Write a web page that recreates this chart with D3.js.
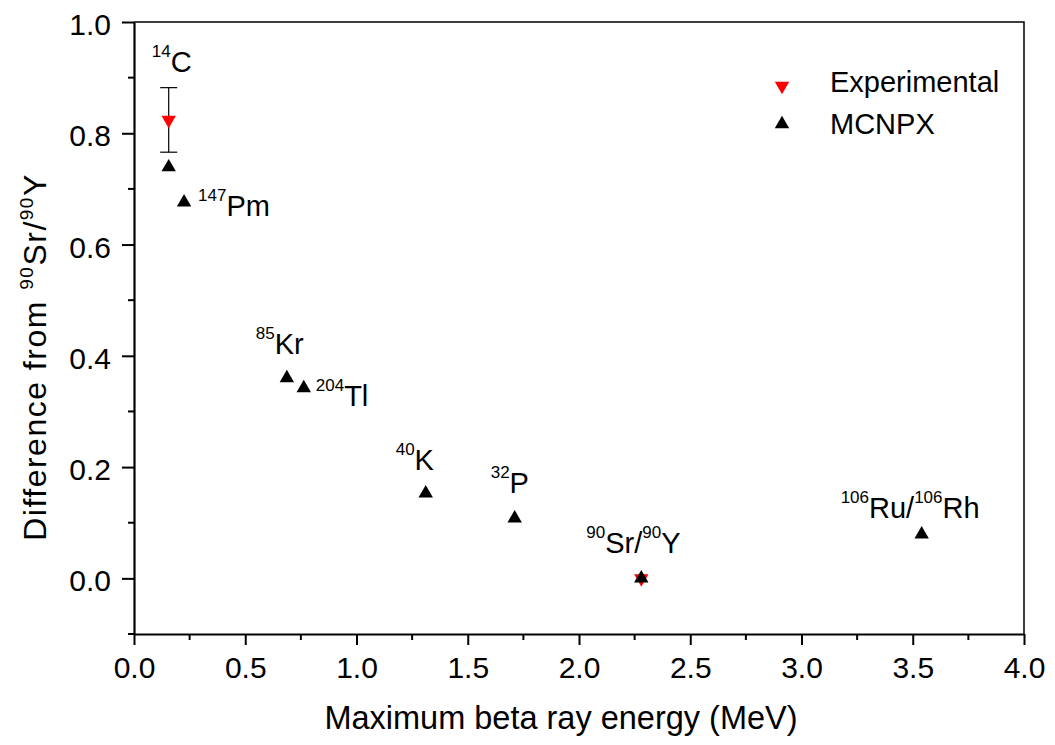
<!DOCTYPE html>
<html>
<head>
<meta charset="utf-8">
<script src="https://d3js.org/d3.v7.min.js"></script>
<style>
  body { margin: 0; background: #fff; }
  * { font-family: "Liberation Sans", Arial, sans-serif; }
</style>
</head>
<body>
<script>
// nuclides (label = superscript mass number + symbol)
var labelSup  = [["14"], ["147"], ["85"], ["204"], ["40"], ["32"], ["90", "90"], ["106", "106"]];
var labelMain = [["C"], ["Pm"], ["Kr"], ["Tl"], ["K"], ["P"], ["Sr/", "Y"], ["Ru/", "Rh"]];
var energy    = [0.156, 0.225, 0.687, 0.763, 1.311, 1.711, 2.28, 3.54];   // MeV
var mcnpx     = [0.739, 0.676, 0.360, 0.342, 0.153, 0.108, 0.0, 0.079];

// experimental points (14C and 90Sr/90Y)
var expEnergy = [0.156, 2.28];
var expValue  = [0.824, 0.0];
var expErr    = [0.058, 0.0];

var xTicks = [0.0, 0.5, 1.0, 1.5, 2.0, 2.5, 3.0, 3.5, 4.0];
var yTicks = [0.0, 0.2, 0.4, 0.6, 0.8, 1.0];

var W = 1055, H = 745;
var margin = {top: 22, right: 31, bottom: 111, left: 134},
    width = W - margin.left - margin.right,
    height = H - margin.top - margin.bottom;

var svg = d3.select("body").append("svg")
    .attr("width", W)
    .attr("height", H);

var g = svg.append("g")
    .attr("transform", "translate(" + margin.left + "," + margin.top + ")");

var x = d3.scaleLinear().domain([0, 4]).range([0, width]);
var y = d3.scaleLinear().domain([-0.1, 1.0]).range([height, 0]);

// frame (top and right)
g.append("path")
    .attr("d", "M0,0H" + width + "V" + height)
    .attr("fill", "none")
    .attr("stroke", "#000")
    .attr("stroke-width", 1.5);

// minor ticks
var xMinor = d3.range(0.25, 4, 0.5);
var yMinor = d3.range(-0.1, 1.0, 0.2);
g.selectAll(".xminor").data(xMinor).enter().append("line")
    .attr("x1", d => x(d)).attr("x2", d => x(d))
    .attr("y1", height).attr("y2", height + 6)
    .attr("stroke", "#000").attr("stroke-width", 2);
g.selectAll(".yminor").data(yMinor).enter().append("line")
    .attr("y1", d => y(d)).attr("y2", d => y(d))
    .attr("x1", 0).attr("x2", -6)
    .attr("stroke", "#000").attr("stroke-width", 2);

var xAxis = g.append("g")
    .attr("transform", "translate(0," + height + ")")
    .call(d3.axisBottom(x).tickValues(xTicks).tickFormat(d3.format(".1f")).tickSizeInner(11).tickSizeOuter(0).tickPadding(12));
var yAxis = g.append("g")
    .call(d3.axisLeft(y).tickValues(yTicks).tickFormat(d3.format(".1f")).tickSizeInner(12).tickSizeOuter(0).tickPadding(11));

[xAxis, yAxis].forEach(a => {
  a.select(".domain").attr("stroke-width", 2.2);
  a.selectAll(".tick line").attr("stroke-width", 2);
  a.selectAll(".tick text").attr("font-size", 30).attr("fill", "#000")
    .style("font-family", "'Liberation Sans', Arial, sans-serif");
});
yAxis.selectAll(".tick text").attr("dy", "0.42em");

// axis titles
svg.append("text")
    .attr("x", 561)
    .attr("y", 729)
    .attr("text-anchor", "middle")
    .attr("font-size", 32.5)
    .text("Maximum beta ray energy (MeV)");

var yt = svg.append("text")
    .attr("transform", "translate(46,357) rotate(-90)")
    .attr("text-anchor", "middle")
    .attr("font-size", 32)
    .attr("letter-spacing", 1.5);
yt.append("tspan").text("Difference from ");
yt.append("tspan").attr("font-size", 19).attr("dy", -13).text("90");
yt.append("tspan").attr("dy", 13).text("Sr/");
yt.append("tspan").attr("font-size", 19).attr("dy", -13).text("90");
yt.append("tspan").attr("dy", 13).text("Y");

var tri = d3.symbol().type(d3.symbolTriangle).size(90);

// experimental (drawn under MCNPX)
var expG = g.selectAll(".exp").data(expEnergy).enter().append("g");
expG.each(function(d, i) {
  var e = d3.select(this);
  if (expErr[i] > 0) {
    var cx = x(d), t = y(expValue[i] + expErr[i]), b = y(expValue[i] - expErr[i]);
    e.append("line").attr("x1", cx).attr("x2", cx).attr("y1", t).attr("y2", b)
      .attr("stroke", "#000").attr("stroke-width", 1.2);
    [t, b].forEach(yy => e.append("line")
      .attr("x1", cx - 8.5).attr("x2", cx + 8.5).attr("y1", yy).attr("y2", yy)
      .attr("stroke", "#000").attr("stroke-width", 1.2));
  }
  e.append("path")
    .attr("d", tri)
    .attr("transform", "translate(" + x(d) + "," + y(expValue[i]) + ") rotate(180)")
    .attr("fill", "#ff0000");
});

// MCNPX
g.selectAll(".mc").data(energy).enter().append("path")
    .attr("d", tri)
    .attr("transform", (d, i) => "translate(" + x(d) + "," + y(mcnpx[i]) + ")")
    .attr("fill", "#000");

// nuclide labels, offset from their MCNPX point
var labelOffset = [[-17, -95], [14, 14], [-31, -24], [12, 18], [-30, -23], [-24, -25], [-55, -25], [-81, -16]];
energy.forEach((d, i) => {
  var t = g.append("text")
    .attr("x", x(d) + labelOffset[i][0])
    .attr("y", y(mcnpx[i]) + labelOffset[i][1])
    .attr("font-size", 29);
  labelSup[i].forEach((s, k) => {
    t.append("tspan").attr("font-size", 17).attr("dy", -15).text(s);
    t.append("tspan").attr("dy", 15).text(labelMain[i][k]);
  });
});

// legend
var legend = svg.append("g").attr("transform", "translate(782,0)");
legend.append("path").attr("d", tri).attr("transform", "translate(0,86) rotate(180)").attr("fill", "#ff0000");
legend.append("text").attr("x", 48).attr("y", 92).attr("font-size", 29).text("Experimental");
legend.append("path").attr("d", tri).attr("transform", "translate(0,124)").attr("fill", "#000");
legend.append("text").attr("x", 48).attr("y", 134).attr("font-size", 29).text("MCNPX");
</script>
</body>
</html>
